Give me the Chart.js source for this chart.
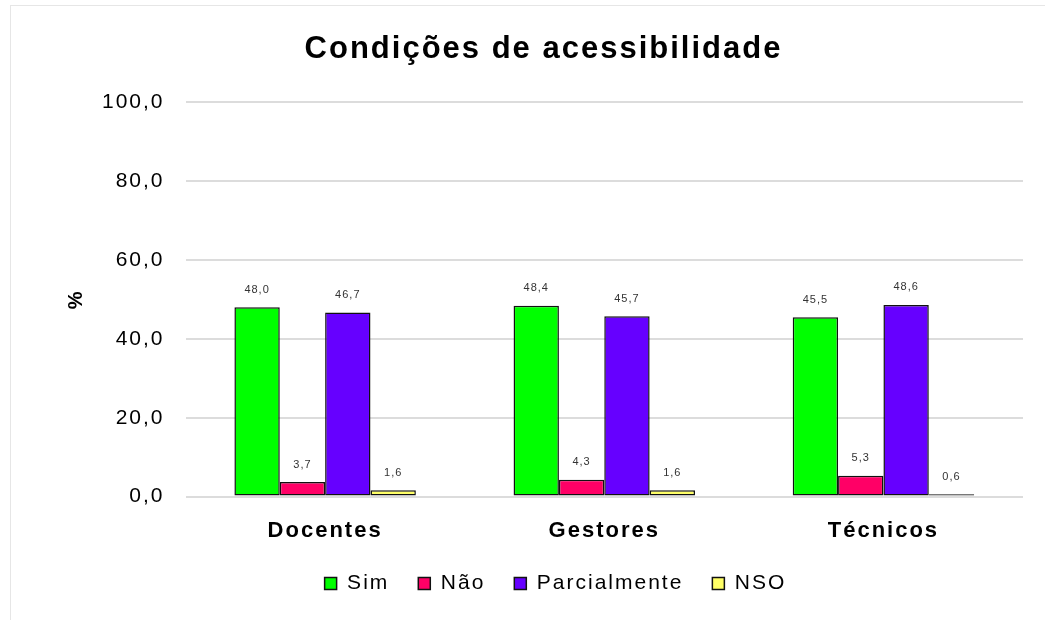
<!DOCTYPE html>
<html>
<head>
<meta charset="utf-8">
<script src="https://cdn.jsdelivr.net/npm/chart.js@4/dist/chart.umd.min.js"></script>
<style>
body { margin: 0; background: #fff; }
#wrap { position: absolute; left: 0; top: 0; width: 1045px; height: 620px; }
#frame { position: absolute; left: 10px; top: 5px; width: 1040px; height: 620px; border-left: 1px solid #e6e6e6; border-top: 1px solid #e6e6e6; }
</style>
</head>
<body>
<div id="wrap">
<div id="frame"></div>
<canvas id="chartID" width="1045" height="620" style="position:absolute;left:0;top:0"></canvas>
</div>
<script>
const categories = ['Docentes', 'Gestores', 'Técnicos']
const simData = [48.0, 48.4, 45.5]
const naoData = [3.7, 4.3, 5.3]
const parcialData = [46.7, 45.7, 48.6]
const nsoData = [1.6, 1.6, 0.6]
const yTicks = [0, 20, 40, 60, 80, 100]

const FONT = '"Liberation Sans", Arial, sans-serif'

const fmt = function(v, d) {
	return v.toFixed(d).replace('.', ',')
}

// the reference text is a bit spread out, so widen letters a little
const spacing = {
	id: 'spacing',
	beforeUpdate(chart) { chart.ctx.letterSpacing = '2px' },
	beforeDraw(chart) { chart.ctx.letterSpacing = '2px' },
	// legend sits a bit right of centre in the original
	afterLayout(chart) {
		chart.legend.left += 12
		chart.legend.right += 12
	},
}

// draws the small value labels above each bar
const barLabels = {
	id: 'barLabels',
	afterDatasetsDraw(chart) {
		const ctx = chart.ctx
		ctx.save()
		ctx.letterSpacing = '1px'
		ctx.font = '11px ' + FONT
		ctx.fillStyle = '#333'
		ctx.textAlign = 'center'
		ctx.textBaseline = 'bottom'
		chart.data.datasets.forEach(function(ds, i) {
			chart.getDatasetMeta(i).data.forEach(function(bar, j) {
				ctx.fillText(fmt(ds.data[j], 1), bar.x, bar.y - 12)
			})
		})
		ctx.restore()
	}
}

function makeSet(label, data, color) {
	return {
		label: label,
		data: data,
		backgroundColor: color,
		borderColor: '#111',
		borderWidth: 1.5,
		borderSkipped: false,
		categoryPercentage: 0.65,
		barPercentage: 1.0,
	}
}

const ctx = document.getElementById('chartID').getContext('2d')
new Chart(ctx, {
	type: 'bar',
	data: {
		labels: categories,
		datasets: [
			makeSet('Sim', simData, '#00ff00'),
			makeSet('Não', naoData, '#ff0066'),
			makeSet('Parcialmente', parcialData, '#6600ff'),
			makeSet('NSO', nsoData, '#ffff66'),
		],
	},
	plugins: [spacing, barLabels],
	options: {
		responsive: false,
		animation: false,
		layout: { padding: { left: 64, right: 22, top: 0, bottom: 16 } },
		plugins: {
			title: {
				display: true,
				text: 'Condições de acessibilidade',
				color: '#000',
				font: { family: FONT, size: 31, weight: 'bold' },
				padding: { top: 31, bottom: 34 },
			},
			legend: {
				position: 'bottom',
				labels: {
					color: '#000',
					font: { family: FONT, size: 21 },
					boxWidth: 12,
					boxHeight: 12,
					padding: 29,
				},
			},
			tooltip: { enabled: false },
		},
		scales: {
			x: {
				grid: { display: false },
				border: { display: false },
				afterFit: function(scale) { scale.height -= 13 },
				ticks: {
					color: '#000',
					padding: 13,
					font: { family: FONT, size: 22, weight: 'bold' },
				},
			},
			y: {
				min: 0,
				max: 100,
				afterBuildTicks: function(axis) {
					axis.ticks = yTicks.map(function(v) { return { value: v } })
				},
				afterFit: function(scale) { scale.width -= 7 },
				grid: { color: '#dcdcdc', lineWidth: 2, drawTicks: false },
				border: { display: false },
				ticks: {
					color: '#000',
					padding: 21,
					font: { family: FONT, size: 21 },
					callback: function(v) { return fmt(v, 1) },
				},
				title: {
					display: true,
					text: '%',
					color: '#000',
					font: { family: FONT, size: 20, weight: 'bold' },
					padding: 0,
				},
			},
		},
	},
})
</script>
</body>
</html>
